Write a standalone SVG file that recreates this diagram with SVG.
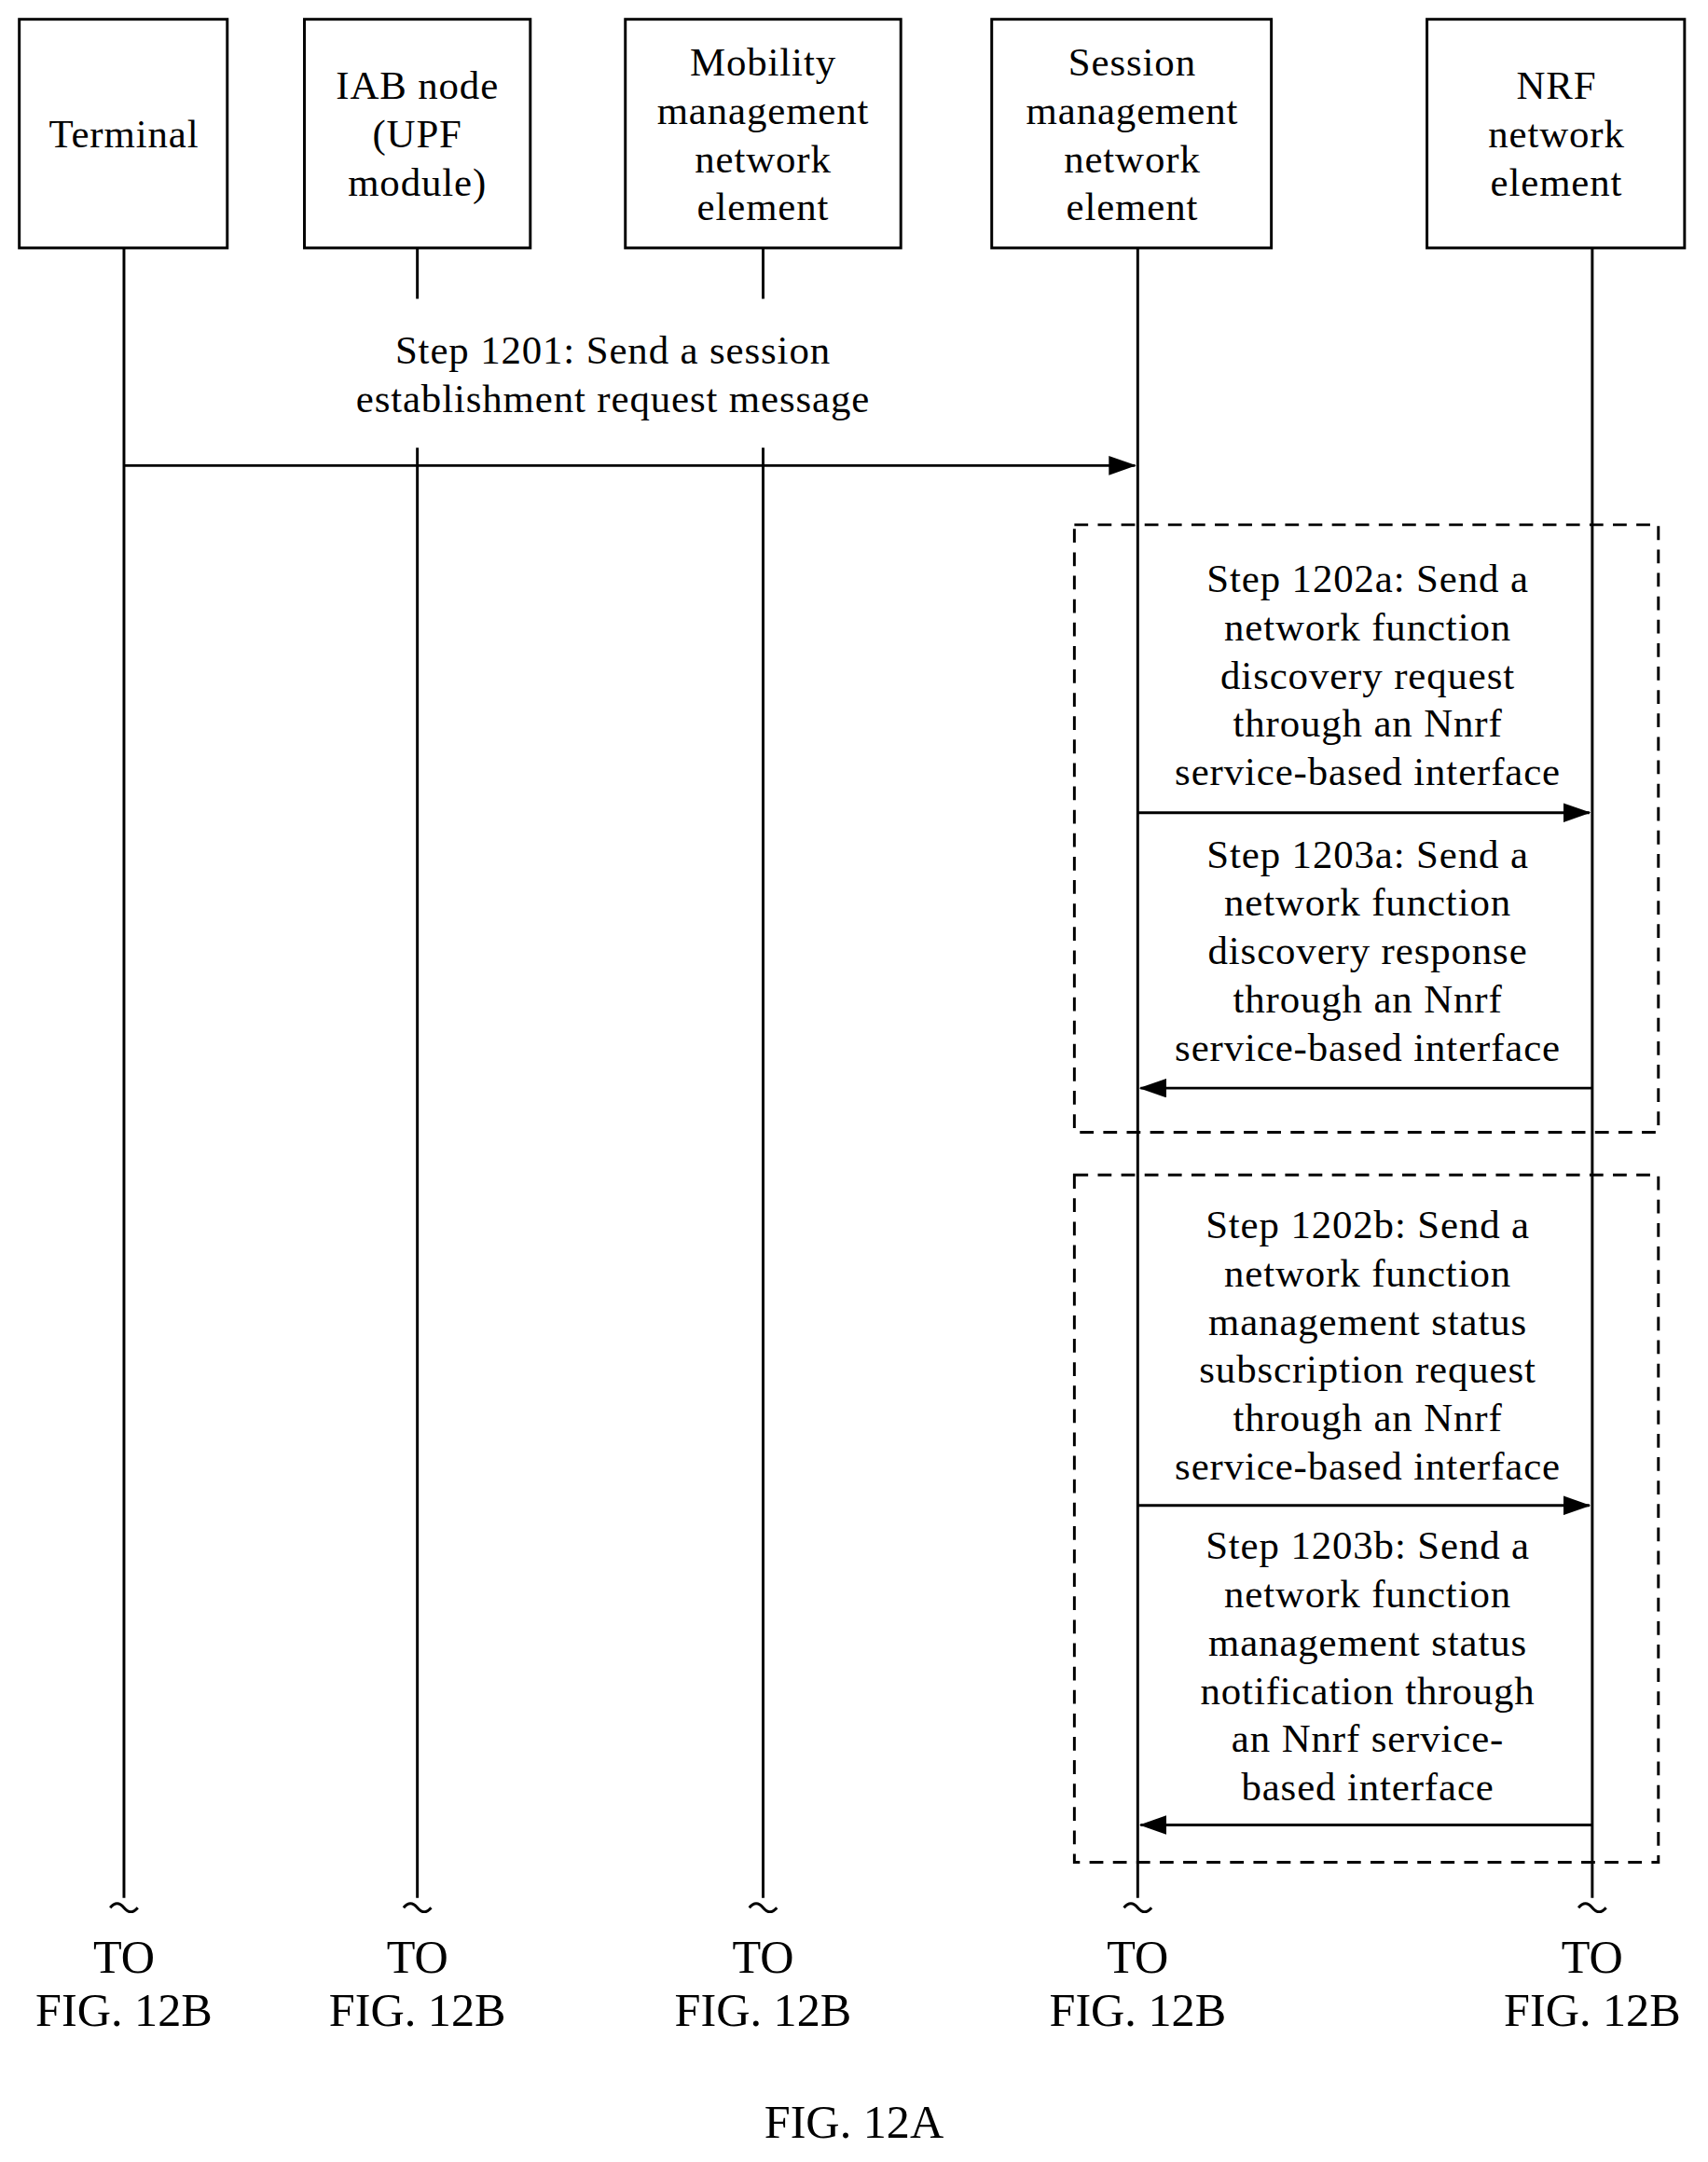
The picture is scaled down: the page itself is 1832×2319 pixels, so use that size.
<svg xmlns="http://www.w3.org/2000/svg" width="1832" height="2319" viewBox="0 0 1832 2319">
<defs>
<style>
.b{fill:#fff;stroke:#000;stroke-width:2}
.l{stroke:#000;stroke-width:2;fill:none}
.d{stroke:#000;stroke-width:2;fill:none;stroke-dasharray:10 7}
text{font-family:"Liberation Serif",serif;font-size:29px;fill:#000;text-anchor:middle;letter-spacing:0.6px}
.f{font-size:34px;letter-spacing:0}
</style>
<marker id="a" markerWidth="20" markerHeight="14" refX="19" refY="7" orient="auto" markerUnits="userSpaceOnUse"><path d="M0,0 L20,7 L0,14z" fill="#000"/></marker>
</defs>
<rect width="1832" height="2319" fill="#fff"/>
<g transform="scale(1.4774)">
<g id="terminal"><rect class="b" x="14" y="14" width="151" height="166"/><text x="90" y="107">Terminal</text></g>
<g id="iab"><rect class="b" x="221" y="14" width="164" height="166"/><text x="303" y="72">IAB node</text><text x="303" y="107">(UPF</text><text x="303" y="142">module)</text></g>
<g id="amf"><rect class="b" x="454" y="14" width="200" height="166"/><text x="554" y="55">Mobility</text><text x="554" y="90">management</text><text x="554" y="125">network</text><text x="554" y="160">element</text></g>
<g id="smf"><rect class="b" x="720" y="14" width="203" height="166"/><text x="822" y="55">Session</text><text x="822" y="90">management</text><text x="822" y="125">network</text><text x="822" y="160">element</text></g>
<g id="nrf"><rect class="b" x="1036" y="14" width="187" height="166"/><text x="1130" y="72">NRF</text><text x="1130" y="107">network</text><text x="1130" y="142">element</text></g>
<g id="connectors">
<path class="l" d="M90,180V1378 M303,180V217 M303,325V1378 M554,180V217 M554,325V1378 M826,180V1378 M1156,180V1378"/>
<path class="l" d="M80,1385q5,-6 10,0t10,0 M293,1385q5,-6 10,0t10,0 M544,1385q5,-6 10,0t10,0 M816,1385q5,-6 10,0t10,0 M1146,1385q5,-6 10,0t10,0"/>
<rect class="d" x="780" y="381" width="424" height="441"/>
<rect class="d" x="780" y="853" width="424" height="499"/>
<line class="l" x1="90" y1="338" x2="824" y2="338" marker-end="url(#a)"/>
<line class="l" x1="826" y1="590" x2="1154" y2="590" marker-end="url(#a)"/>
<line class="l" x1="1156" y1="790" x2="828" y2="790" marker-end="url(#a)"/>
<line class="l" x1="826" y1="1093" x2="1154" y2="1093" marker-end="url(#a)"/>
<line class="l" x1="1156" y1="1325" x2="828" y2="1325" marker-end="url(#a)"/>
</g>
<g id="labels">
<text x="445" y="264">Step 1201: Send a session</text><text x="445" y="299">establishment request message</text>
<text x="993" y="430">Step 1202a: Send a</text><text x="993" y="465">network function</text><text x="993" y="500">discovery request</text><text x="993" y="535">through an Nnrf</text><text x="993" y="570">service-based interface</text>
<text x="993" y="630">Step 1203a: Send a</text><text x="993" y="665">network function</text><text x="993" y="700">discovery response</text><text x="993" y="735">through an Nnrf</text><text x="993" y="770">service-based interface</text>
<text x="993" y="899">Step 1202b: Send a</text><text x="993" y="934">network function</text><text x="993" y="969">management status</text><text x="993" y="1004">subscription request</text><text x="993" y="1039">through an Nnrf</text><text x="993" y="1074">service-based interface</text>
<text x="993" y="1132">Step 1203b: Send a</text><text x="993" y="1167">network function</text><text x="993" y="1202">management status</text><text x="993" y="1237">notification through</text><text x="993" y="1272">an Nnrf service-</text><text x="993" y="1307">based interface</text>
<text class="f" x="90" y="1432">TO</text><text class="f" x="90" y="1471">FIG. 12B</text>
<text class="f" x="303" y="1432">TO</text><text class="f" x="303" y="1471">FIG. 12B</text>
<text class="f" x="554" y="1432">TO</text><text class="f" x="554" y="1471">FIG. 12B</text>
<text class="f" x="826" y="1432">TO</text><text class="f" x="826" y="1471">FIG. 12B</text>
<text class="f" x="1156" y="1432">TO</text><text class="f" x="1156" y="1471">FIG. 12B</text>
<text class="f" x="620" y="1552">FIG. 12A</text>
</g>
</g>
</svg>
